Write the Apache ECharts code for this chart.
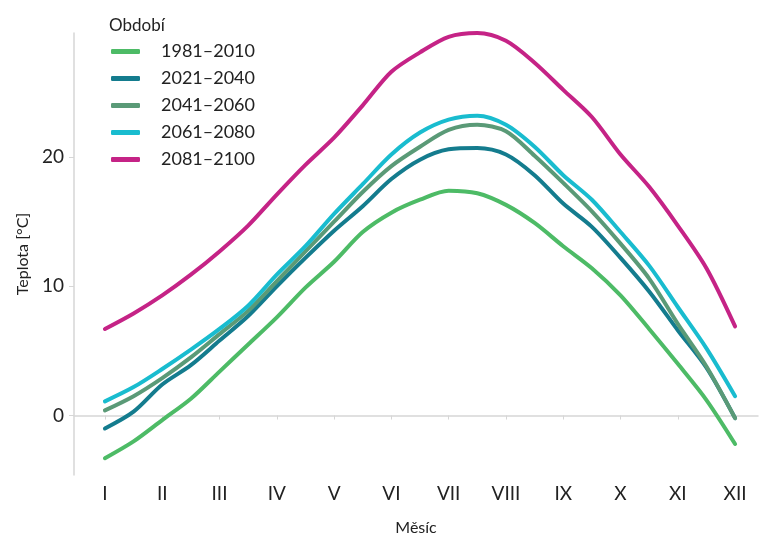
<!DOCTYPE html>
<html>
<head>
<meta charset="utf-8">
<script src="https://cdn.jsdelivr.net/npm/echarts@6/dist/echarts.min.js"></script>
<style>
  html, body { margin: 0; padding: 0; background: #fff; }
  #chart { width: 760px; height: 541px; }
</style>
</head>
<body>
<div id="chart"></div>
<script>
// měsíce (po půl měsíci)
const months = [1, 1.5, 2, 2.5, 3, 3.5, 4, 4.5, 5, 5.5, 6, 6.5, 7, 7.5, 8, 8.5, 9, 9.5, 10, 10.5, 11, 11.5, 12]
const romanLabels = ['I', 'II', 'III', 'IV', 'V', 'VI', 'VII', 'VIII', 'IX', 'X', 'XI', 'XII']
const yTicks = [0, 10, 20]
const periods = ['1981\u20132010', '2021\u20132040', '2041\u20132060', '2061\u20132080', '2081\u20132100']
const colors = ['#4dbb66', '#147c8e', '#5a9a77', '#19bccf', '#c52386']

// teploty [°C]
const t1981 = [-3.3, -2.0, -0.35, 1.3, 3.4, 5.5, 7.6, 9.9, 11.9, 14.2, 15.7, 16.7, 17.4, 17.2, 16.3, 14.9, 13.1, 11.4, 9.3, 6.7, 4.0, 1.2, -2.2]
const t2021 = [-1.0, 0.3, 2.4, 3.9, 5.8, 7.7, 10.0, 12.2, 14.3, 16.2, 18.3, 19.8, 20.6, 20.7, 20.2, 18.6, 16.4, 14.6, 12.2, 9.6, 6.6, 3.7, -0.2]
const t2041 = [0.4, 1.5, 2.9, 4.5, 6.3, 8.1, 10.4, 12.7, 15.0, 17.3, 19.3, 20.8, 22.1, 22.5, 22.0, 20.1, 18.0, 15.8, 13.3, 10.6, 7.1, 3.8, -0.2]
const t2061 = [1.1, 2.2, 3.6, 5.1, 6.7, 8.5, 10.9, 13.1, 15.6, 17.9, 20.2, 21.9, 22.9, 23.2, 22.5, 20.8, 18.6, 16.7, 14.2, 11.6, 8.4, 5.2, 1.5]
const t2081 = [6.7, 7.9, 9.3, 10.9, 12.7, 14.7, 17.1, 19.4, 21.5, 24.0, 26.6, 28.1, 29.3, 29.6, 29.0, 27.3, 25.2, 23.1, 20.2, 17.7, 14.7, 11.4, 6.9]
const seriesData = [t1981, t2021, t2041, t2061, t2081]

const chart = echarts.init(document.getElementById('chart'))
const font = 'Lato, "DejaVu Sans", sans-serif'

const option = {
  animation: false,
  textStyle: { fontFamily: font, color: '#222' },
  color: colors,
  title: {
    text: 'Období',
    left: 104,
    top: 12,
    textStyle: { fontFamily: font, fontSize: 17, fontWeight: 'normal', color: '#222' }
  },
  legend: {
    orient: 'vertical',
    left: 106,
    top: 36,
    icon: 'roundRect',
    itemWidth: 29,
    itemHeight: 5,
    itemGap: 6,
    data: periods,
    textStyle: { fontFamily: font, fontSize: 18, color: '#222', lineHeight: 21, padding: [0, 0, 0, 16] }
  },
  grid: { left: 74, right: 2, top: 33, bottom: 65 },
  xAxis: {
    type: 'value',
    min: 0.46,
    max: 12.4,
    name: 'Měsíc',
    nameLocation: 'middle',
    nameGap: 45,
    nameTextStyle: { fontFamily: font, fontSize: 16, color: '#222' },
    axisLine: { show: true, lineStyle: { color: '#d6d6d6', width: 1.5 } },
    axisTick: { show: true, length: 4, customValues: romanLabels.map((r, i) => i + 1), lineStyle: { color: '#d6d6d6' } },
    axisLabel: {
      customValues: romanLabels.map((r, i) => i + 1),
      formatter: v => romanLabels[Math.round(v) - 1],
      fontFamily: font, fontSize: 19, color: '#222', margin: 9
    },
    splitLine: { show: false }
  },
  yAxis: {
    type: 'value',
    min: -4.6,
    max: 29.6,
    name: 'Teplota [°C]',
    nameLocation: 'middle',
    nameRotate: 90,
    nameGap: 42,
    nameTextStyle: { fontFamily: font, fontSize: 16, color: '#222' },
    axisLine: { show: true, lineStyle: { color: '#d6d6d6', width: 1.5 } },
    axisTick: { show: true, length: 5, customValues: yTicks, lineStyle: { color: '#d6d6d6' } },
    axisLabel: { customValues: yTicks, fontFamily: font, fontSize: 19, color: '#222', margin: 10 },
    splitLine: { show: false }
  },
  series: periods.map((name, i) => ({
    name: name,
    type: 'line',
    smooth: 0.3,
    showSymbol: false,
    symbol: 'none',
    lineStyle: { width: 4, cap: 'round', join: 'round' },
    data: months.map((m, j) => [m, seriesData[i][j]])
  }))
}

chart.setOption(option)
</script>
</body>
</html>
